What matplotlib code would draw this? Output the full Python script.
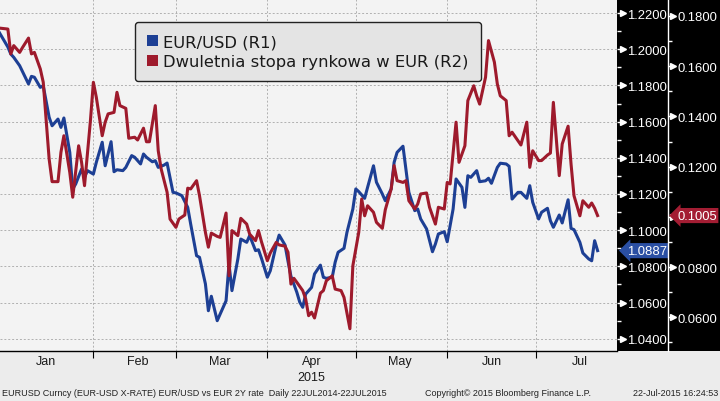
import pandas as pd
import matplotlib
matplotlib.use("Agg")
import matplotlib.pyplot as plt
import matplotlib.dates as mdates
import matplotlib.transforms as mtransforms
from matplotlib.patches import Patch, Rectangle
from matplotlib.ticker import MultipleLocator, FormatStrFormatter, FuncFormatter, NullFormatter

plt.rcParams['font.family'] = ['Liberation Sans', 'DejaVu Sans']

# EUR/USD (R1)
eurusd_dates = [
    '2014-12-31', '2015-01-03', '2015-01-04', '2015-01-05', '2015-01-07', '2015-01-10', '2015-01-11',
    '2015-01-12', '2015-01-14', '2015-01-15', '2015-01-17', '2015-01-18', '2015-01-20', '2015-01-21',
    '2015-01-22', '2015-01-24', '2015-01-25', '2015-01-26', '2015-01-28', '2015-01-29', '2015-01-30',
    '2015-02-01', '2015-02-02', '2015-02-04', '2015-02-05', '2015-02-07', '2015-02-08', '2015-02-09',
    '2015-02-11', '2015-02-12', '2015-02-14', '2015-02-15', '2015-02-17', '2015-02-18', '2015-02-19',
    '2015-02-21', '2015-02-22', '2015-02-23', '2015-02-25', '2015-02-26', '2015-02-28',
    '2015-03-01', '2015-03-03', '2015-03-05', '2015-03-06', '2015-03-08', '2015-03-09', '2015-03-11',
    '2015-03-12', '2015-03-13', '2015-03-15', '2015-03-17', '2015-03-18', '2015-03-19', '2015-03-20',
    '2015-03-22', '2015-03-23', '2015-03-25', '2015-03-26', '2015-03-28', '2015-03-29', '2015-03-30',
    '2015-04-01', '2015-04-02', '2015-04-04', '2015-04-05', '2015-04-07', '2015-04-08', '2015-04-09',
    '2015-04-11', '2015-04-12', '2015-04-13', '2015-04-14', '2015-04-16', '2015-04-17', '2015-04-19',
    '2015-04-20', '2015-04-21', '2015-04-23', '2015-04-24', '2015-04-25', '2015-04-27', '2015-04-28',
    '2015-04-30', '2015-05-01', '2015-05-02', '2015-05-04', '2015-05-05', '2015-05-07', '2015-05-08',
    '2015-05-10', '2015-05-11', '2015-05-13', '2015-05-14', '2015-05-15', '2015-05-17', '2015-05-18',
    '2015-05-19', '2015-05-21', '2015-05-22', '2015-05-23', '2015-05-25', '2015-05-27', '2015-05-28',
    '2015-05-29', '2015-05-31', '2015-06-01', '2015-06-03', '2015-06-04', '2015-06-06', '2015-06-07',
    '2015-06-08', '2015-06-09', '2015-06-11', '2015-06-12', '2015-06-14', '2015-06-15', '2015-06-16',
    '2015-06-18', '2015-06-19', '2015-06-21', '2015-06-22', '2015-06-23', '2015-06-25', '2015-06-26',
    '2015-06-28', '2015-06-29', '2015-06-30', '2015-07-02', '2015-07-03', '2015-07-05', '2015-07-06',
    '2015-07-07', '2015-07-09', '2015-07-10', '2015-07-12', '2015-07-13', '2015-07-14', '2015-07-16',
    '2015-07-17', '2015-07-19', '2015-07-20', '2015-07-21', '2015-07-22',
]
eurusd_values = [
    1.2095, 1.2012, 1.1973, 1.1955, 1.1909, 1.1808, 1.1850,
    1.1845, 1.1789, 1.1798, 1.1624, 1.1577, 1.1614, 1.1568,
    1.1620, 1.1430, 1.1228, 1.1255, 1.1338, 1.1292, 1.1329,
    1.1310, 1.1375, 1.1486, 1.1356, 1.1489, 1.1323, 1.1334,
    1.1329, 1.1347, 1.1412, 1.1403, 1.1366, 1.1421, 1.1403,
    1.1378, 1.1384, 1.1347, 1.1360, 1.1371, 1.1209,
    1.1206, 1.1191, 1.1126, 1.1034, 1.0859, 1.0850, 1.0703,
    1.0555, 1.0635, 1.0500, 1.0574, 1.0610, 1.0813, 1.0666,
    1.0841, 1.0951, 1.0933, 1.0970, 1.0887, 1.0892, 1.0845,
    1.0740, 1.0776, 1.0917, 1.0973, 1.0918, 1.0829, 1.0746,
    1.0657, 1.0602, 1.0574, 1.0647, 1.0684, 1.0758, 1.0807,
    1.0740, 1.0734, 1.0740, 1.0823, 1.0878, 1.0900, 1.0988,
    1.1117, 1.1228, 1.1213, 1.1176, 1.1237, 1.1356, 1.1265,
    1.1200, 1.1163, 1.1228, 1.1375, 1.1430, 1.1464, 1.1338,
    1.1209, 1.1108, 1.1117, 1.1062, 1.1007, 1.0881, 1.0924,
    1.0979, 1.0992, 1.0936, 1.1117, 1.1283, 1.1237, 1.1126,
    1.1301, 1.1292, 1.1329, 1.1268, 1.1273, 1.1287, 1.1259,
    1.1347, 1.1370, 1.1366, 1.1353, 1.1172, 1.1209, 1.1209,
    1.1176, 1.1246, 1.1154, 1.1062, 1.1099, 1.1121, 1.1052,
    1.1016, 1.1084, 1.1040, 1.1168, 1.1010, 1.1003, 1.0933,
    1.0874, 1.0841, 1.0831, 1.0942, 1.0887,
]

# 2Y EUR market rate (R2)
rate_dates = [
    '2014-12-31', '2015-01-03', '2015-01-04', '2015-01-05', '2015-01-07', '2015-01-08', '2015-01-10',
    '2015-01-11', '2015-01-12', '2015-01-14', '2015-01-15', '2015-01-17', '2015-01-18', '2015-01-20',
    '2015-01-21', '2015-01-22', '2015-01-24', '2015-01-25', '2015-01-27', '2015-01-28', '2015-01-29',
    '2015-01-31', '2015-02-01', '2015-02-02', '2015-02-04', '2015-02-05', '2015-02-06', '2015-02-08',
    '2015-02-09', '2015-02-10', '2015-02-12', '2015-02-13', '2015-02-15', '2015-02-16', '2015-02-18',
    '2015-02-19', '2015-02-20', '2015-02-22', '2015-02-23', '2015-02-24', '2015-02-26', '2015-02-27',
    '2015-03-01', '2015-03-02', '2015-03-04', '2015-03-05', '2015-03-06', '2015-03-08', '2015-03-09',
    '2015-03-11', '2015-03-12', '2015-03-13', '2015-03-15', '2015-03-16', '2015-03-18', '2015-03-19',
    '2015-03-20', '2015-03-22', '2015-03-23', '2015-03-25', '2015-03-26', '2015-03-28', '2015-03-29',
    '2015-03-30', '2015-04-01', '2015-04-02', '2015-04-04', '2015-04-05', '2015-04-07', '2015-04-08',
    '2015-04-09', '2015-04-10', '2015-04-11', '2015-04-13', '2015-04-14', '2015-04-15', '2015-04-16',
    '2015-04-17', '2015-04-19', '2015-04-20', '2015-04-21', '2015-04-23', '2015-04-24', '2015-04-26',
    '2015-04-27', '2015-04-29', '2015-04-30', '2015-05-02', '2015-05-03', '2015-05-04', '2015-05-05',
    '2015-05-07', '2015-05-08', '2015-05-10', '2015-05-11', '2015-05-13', '2015-05-14', '2015-05-15',
    '2015-05-17', '2015-05-18', '2015-05-19', '2015-05-21', '2015-05-22', '2015-05-23', '2015-05-25',
    '2015-05-26', '2015-05-28', '2015-05-29', '2015-05-31', '2015-06-01', '2015-06-02', '2015-06-04',
    '2015-06-05', '2015-06-07', '2015-06-08', '2015-06-10', '2015-06-11', '2015-06-12', '2015-06-14',
    '2015-06-15', '2015-06-17', '2015-06-18', '2015-06-19', '2015-06-21', '2015-06-22', '2015-06-23',
    '2015-06-25', '2015-06-26', '2015-06-28', '2015-06-29', '2015-06-30', '2015-07-02', '2015-07-03',
    '2015-07-05', '2015-07-06', '2015-07-07', '2015-07-09', '2015-07-10', '2015-07-12', '2015-07-13',
    '2015-07-14', '2015-07-16', '2015-07-17', '2015-07-19', '2015-07-20', '2015-07-21', '2015-07-22',
]
rate_values = [
    0.1752, 0.1748, 0.1649, 0.1682, 0.1655, 0.1675, 0.1712,
    0.1649, 0.1655, 0.1589, 0.1536, 0.1230, 0.1140, 0.1140,
    0.1257, 0.1323, 0.1177, 0.1078, 0.1283, 0.1217, 0.1124,
    0.1383, 0.1536, 0.1476, 0.1323, 0.1377, 0.1410, 0.1416,
    0.1496, 0.1443, 0.1432, 0.1313, 0.1317, 0.1306, 0.1353,
    0.1299, 0.1299, 0.1443, 0.1263, 0.1190, 0.1098, 0.0991,
    0.0958, 0.0991, 0.1007, 0.1114, 0.1111, 0.1144, 0.1084,
    0.0938, 0.0879, 0.0935, 0.0922, 0.0918, 0.1015, 0.0765,
    0.0945, 0.0925, 0.0994, 0.0971, 0.0931, 0.0905, 0.0945,
    0.0901, 0.0825, 0.0856, 0.0898, 0.0888, 0.0883, 0.0859,
    0.0732, 0.0755, 0.0739, 0.0706, 0.0673, 0.0606, 0.0620,
    0.0597, 0.0696, 0.0706, 0.0745, 0.0765, 0.0712, 0.0706,
    0.0679, 0.0554, 0.0805, 0.0938, 0.1071, 0.1004, 0.1044,
    0.1018, 0.0978, 0.0954, 0.1028, 0.1111, 0.1204, 0.1144,
    0.1137, 0.1144, 0.1064, 0.1031, 0.1051, 0.1091, 0.1095,
    0.1038, 0.0971, 0.1038, 0.1031, 0.1137, 0.1131, 0.1377,
    0.1217, 0.1283, 0.1463, 0.1522, 0.1482, 0.1449, 0.1556,
    0.1702, 0.1616, 0.1529, 0.1482, 0.1463, 0.1323, 0.1337,
    0.1303, 0.1286, 0.1377, 0.1197, 0.1263, 0.1224, 0.1224,
    0.1246, 0.1254, 0.1456, 0.1164, 0.1290, 0.1361, 0.1210,
    0.1084, 0.1004, 0.1064, 0.1038, 0.1055, 0.1034, 0.1005,
]

eur_label = 'EUR/USD (R1)'
rate_label = 'Dwuletnia stopa rynkowa w EUR (R2)'
footer_left = 'EURUSD Curncy (EUR-USD X-RATE) EUR/USD vs EUR 2Y rate  Daily 22JUL2014-22JUL2015'
footer_mid = 'Copyright\u00a9 2015 Bloomberg Finance L.P.'
footer_right = '22-Jul-2015 16:24:53'

BLUE = '#1d3f94'
RED = '#9e1a2c'

eur_x = pd.to_datetime(eurusd_dates)
rate_x = pd.to_datetime(rate_dates)

fig = plt.figure(figsize=(7.2, 4.02), dpi=100, facecolor='#ececec')
ax = fig.add_axes([0, 50 / 402, 617 / 720, 352 / 402])
ax.set_facecolor('#f3f3f3')

# black strip behind the two right-hand axes
fig.patches.append(Rectangle((617 / 720, 50 / 402), 103 / 720, 352 / 402,
                             transform=fig.transFigure, facecolor='black',
                             edgecolor='none', zorder=-1))

ax2 = ax.twinx()

ax.plot(eur_x, eurusd_values, color=BLUE, lw=2.2, solid_joinstyle='round')
ax2.plot(rate_x, rate_values, color=RED, lw=2.2, solid_joinstyle='round')

ax.set_xlim(pd.Timestamp('2014-12-31 08:00'), pd.Timestamp('2015-07-28 14:00'))
ax.set_ylim(1.03325, 1.22774)
ax2.set_ylim(0.04654, 0.18677)

for a in (ax, ax2):
    for s in ('left', 'top', 'right'):
        a.spines[s].set_visible(False)
ax2.spines['bottom'].set_visible(False)
ax.spines['bottom'].set_color('black')
ax.spines['bottom'].set_linewidth(1.0)

ax2.spines['right'].set_visible(True)
ax2.spines['right'].set_position(('outward', 36.7))
ax2.spines['right'].set_color('white')
ax2.spines['right'].set_linewidth(1.0)

# x axis: month boundaries as ticks/grid, month names at mid-month
ax.xaxis.set_major_locator(mdates.MonthLocator(bymonth=range(2, 13)))
ax.xaxis.set_major_formatter(NullFormatter())
ax.xaxis.set_minor_locator(mdates.MonthLocator(bymonthday=16))
ax.xaxis.set_minor_formatter(mdates.DateFormatter('%b'))
ax.tick_params(axis='x', which='major', length=5, width=0.8, color='black', direction='out')
ax.tick_params(axis='x', which='minor', length=0, pad=3, labelsize=9, labelcolor='#1a1a1a')
ax.text(pd.Timestamp('2015-04-16'), -26 / 352, '2015', transform=ax.get_xaxis_transform(),
        ha='center', va='center', fontsize=9, color='#1a1a1a')

# R1 axis
ax.yaxis.tick_right()
ax.yaxis.set_major_locator(MultipleLocator(0.02))
ax.yaxis.set_minor_locator(MultipleLocator(0.01))
ax.yaxis.set_major_formatter(FormatStrFormatter('%.4f'))
ax.tick_params(axis='y', which='major', right=True, left=False, length=3, width=1,
               color='white', labelcolor='white', labelsize=9.4, pad=4)
ax.tick_params(axis='y', which='minor', right=True, left=False, length=3, width=1, color='white')


# R2 axis: the last-value box covers the tick label it sits on
def r2_label(v, pos):
    if abs(v - rate_values[-1]) < 0.004:
        return ''
    return '%.4f' % v


ax2.yaxis.set_major_locator(MultipleLocator(0.02))
ax2.yaxis.set_minor_locator(MultipleLocator(0.01))
ax2.yaxis.set_major_formatter(FuncFormatter(r2_label))
ax2.tick_params(axis='y', which='major', length=3, width=1, color='white',
                labelcolor='white', labelsize=9.4, pad=4)
ax2.tick_params(axis='y', which='minor', length=3, width=1, color='white')

ax.grid(True, which='major', axis='both', color='#b0b0b0', linestyle=(0, (2, 2)), linewidth=0.7)

# triangle markers on major ticks
y1 = [t for t in ax.get_yticks() if 1.03325 <= t <= 1.22774]
tr1 = ax.get_yaxis_transform() + mtransforms.ScaledTranslation(5.5 / 100, 0, fig.dpi_scale_trans)
ax.plot([1.0] * len(y1), y1, ls='none', marker='>', ms=4.5, color='white',
        transform=tr1, clip_on=False)
y2 = [t for t in ax2.get_yticks() if 0.04654 <= t <= 0.18677]
tr2 = ax2.get_yaxis_transform() + mtransforms.ScaledTranslation(55.5 / 100, 0, fig.dpi_scale_trans)
ax2.plot([1.0] * len(y2), y2, ls='none', marker='>', ms=4.5, color='white',
         transform=tr2, clip_on=False)

# last-value boxes
ax.text(647 / 617, eurusd_values[-1], '%.4f' % eurusd_values[-1], transform=ax.get_yaxis_transform(),
        ha='center', va='center', color='white', fontsize=9.4, clip_on=False, zorder=5,
        bbox=dict(boxstyle='larrow,pad=0.12', fc='#2a4fa3', ec='none'))
ax2.text(697 / 617, rate_values[-1], '%.4f' % rate_values[-1], transform=ax2.get_yaxis_transform(),
         ha='center', va='center', color='white', fontsize=9.4, clip_on=False, zorder=5,
         bbox=dict(boxstyle='larrow,pad=0.12', fc='#a31d33', ec='none'))

handles = [Patch(facecolor=BLUE, edgecolor='none', label=eur_label),
           Patch(facecolor=RED, edgecolor='none', label=rate_label)]
leg = ax2.legend(handles=handles, loc='upper left', bbox_to_anchor=(135 / 617, 1 - 23 / 352),
                 bbox_transform=ax2.transAxes, borderaxespad=0,
                 prop={'family': 'DejaVu Sans', 'size': 11.8}, frameon=True, fancybox=True,
                 facecolor='#e4e4e4', edgecolor='#222222', framealpha=1,
                 handlelength=0.67, handleheight=0.67, handletextpad=0.3,
                 borderpad=0.75, labelspacing=0.28)
leg.get_frame().set_linewidth(1.0)
for t in leg.get_texts():
    t.set_color('#1a1a1a')

fig.text(2 / 720, 8 / 402, footer_left, fontsize=6.5, color='#222222', ha='left', va='center')
fig.text(425 / 720, 8 / 402, footer_mid, fontsize=6.5, color='#222222', ha='left', va='center')
fig.text(718 / 720, 8 / 402, footer_right, fontsize=6.5, color='#222222', ha='right', va='center')

fig.savefig('out.png', dpi=100, facecolor=fig.get_facecolor())
